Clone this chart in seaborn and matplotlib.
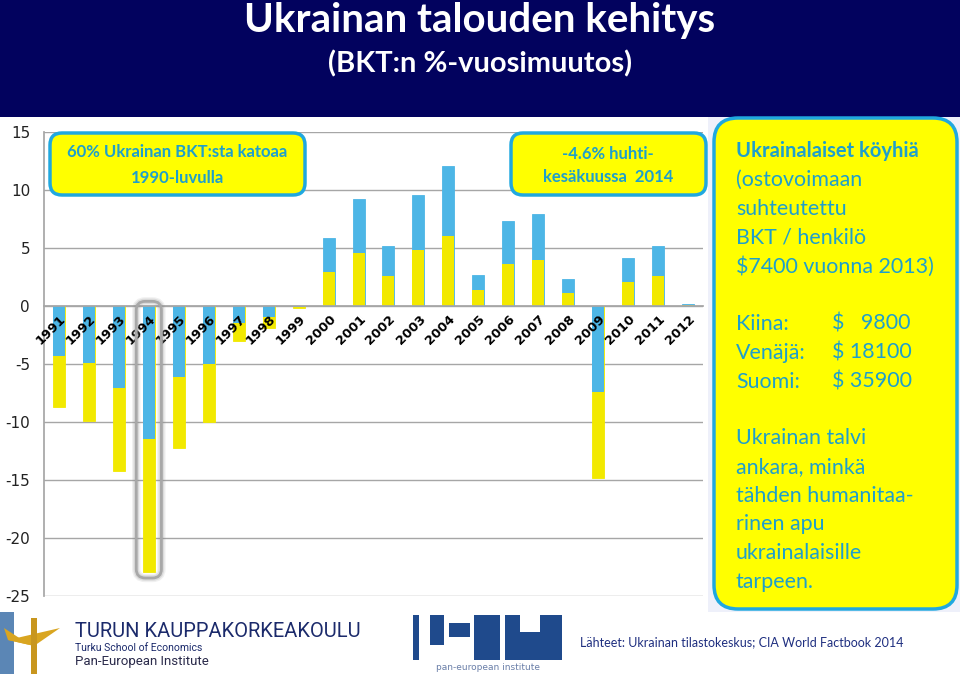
import matplotlib
matplotlib.use("Agg")
import matplotlib.pyplot as plt
import matplotlib.transforms as mtrans
import seaborn as sns
import pandas as pd
import numpy as np
from matplotlib.patches import FancyBboxPatch, Rectangle, Polygon
from matplotlib.transforms import IdentityTransform

# ---------------- data ----------------
years = ["1991", "1992", "1993", "1994", "1995", "1996", "1997", "1998", "1999", "2000", "2001",
         "2002", "2003", "2004", "2005", "2006", "2007", "2008", "2009", "2010", "2011", "2012"]
growth = [-8.7, -9.9, -14.2, -22.9, -12.2, -10.0, -3.0, -1.9, -0.2, 5.9, 9.2,
          5.2, 9.6, 12.1, 2.7, 7.3, 7.9, 2.3, -14.8, 4.1, 5.2, 0.2]
yticks = [-25, -20, -15, -10, -5, 0, 5, 10, 15]

title = "Ukrainan talouden kehitys"
subtitle = "(BKT:n %-vuosimuutos)"
box1_lines = ["60% Ukrainan BKT:sta katoaa", "1990-luvulla"]
box2_lines = ["-4.6% huhti-", "kesäkuussa  2014"]
side_head = "Ukrainalaiset köyhiä"
side_lines = ["(ostovoimaan", "suhteutettu", "BKT / henkilö", "$7400 vuonna 2013)"]
countries = ["Kiina:", "Venäjä:", "Suomi:"]
country_gdp = ["$   9800", "$ 18100", "$ 35900"]
side_tail = ["Ukrainan talvi", "ankara, minkä", "tähden humanitaa-", "rinen apu",
             "ukrainalaisille", "tarpeen."]
source = "Lähteet: Ukrainan tilastokeskus; CIA World Factbook 2014"

# ---------------- style ----------------
BLUE = "#4DB6E6"
YELLOW = "#F2E900"
NAVY = "#02025E"
TEAL = "#1E9FCC"
BORDER = "#20A8DF"
GRID = "#A6A6A6"
CAL = ["Lato", "DejaVu Sans"]

sns.set_theme(style="white")
plt.rcParams["font.family"] = ["DejaVu Sans"]
plt.rcParams["axes.axisbelow"] = False

W, H = 960, 674
fig = plt.figure(figsize=(W / 100, H / 100), dpi=100)
fig.patch.set_facecolor("white")

def fx(x):
    return x / W

def fy(y):
    return 1 - y / H

def px_box(x0, y0, x1, y1, **kw):
    p = FancyBboxPatch((x0, H - y1), x1 - x0, y1 - y0, transform=IdentityTransform(), **kw)
    fig.add_artist(p)
    return p

def px_rect(x0, y0, x1, y1, **kw):
    p = Rectangle((x0, H - y1), x1 - x0, y1 - y0, transform=IdentityTransform(), **kw)
    fig.add_artist(p)
    return p

# ---------------- banner ----------------
px_rect(0, 0, W, 117, facecolor=NAVY, edgecolor="none", zorder=0.2)
fig.text(fx(480), fy(32), title, color="white", fontsize=29, fontweight="bold",
         family=CAL, ha="center", va="baseline")
fig.text(fx(480), fy(72), subtitle, color="white", fontsize=21, fontweight="bold",
         family=CAL, ha="center", va="baseline")

# ---------------- chart ----------------
ax = fig.add_axes([fx(44), fy(596), 659 / W, 464 / H])
df = pd.DataFrame({"year": years, "growth": growth})
df["half"] = df["growth"] / 2
outer_colors = [BLUE if g > 0 else YELLOW for g in growth]
inner_colors = [YELLOW if g > 0 else BLUE for g in growth]
sns.barplot(data=df, x="year", y="growth", hue="year", palette=outer_colors, legend=False,
            width=0.4, saturation=1, linewidth=0.6, ax=ax)
n_outer = len(ax.patches)
for p in ax.patches:
    p.set_edgecolor(p.get_facecolor())
sns.barplot(data=df, x="year", y="half", hue="year", palette=inner_colors, legend=False,
            width=0.4, saturation=1, linewidth=0, ax=ax)
for p in ax.patches:
    p.set_zorder(1)

ax.set_ylim(yticks[0], yticks[-1])
ax.set_xlim(-0.5, len(years) - 0.5)
ax.set_yticks(yticks)
ax.set_yticklabels([str(v) for v in yticks])
ax.grid(False)
ax.set_axisbelow(False)
for v in yticks:
    ax.axhline(v, color=GRID, linewidth=1, zorder=0.5)
for s in ["top", "right"]:
    ax.spines[s].set_visible(False)
ax.spines["left"].set_color(GRID)
ax.spines["bottom"].set_color(GRID)
ax.spines["bottom"].set_position(("data", 0))
ax.set_xlabel("")
ax.set_ylabel("")
ax.set_xticks(np.arange(-0.5, len(years), 1), minor=True)
ax.tick_params(axis="x", which="major", length=0, pad=3, labelsize=9.3, labelcolor="black")
ax.tick_params(axis="x", which="minor", length=4, color=GRID, direction="out", width=1)
ax.tick_params(axis="y", length=4, color=GRID, width=1, labelsize=11, pad=6, labelcolor="#222222")
offset = mtrans.ScaledTranslation(5 / 100, -7 / 100, fig.dpi_scale_trans)
for lab in ax.get_xticklabels():
    lab.set_rotation(45)
    lab.set_ha("right")
    lab.set_va("center")
    lab.set_rotation_mode("anchor")
    lab.set_fontweight("bold")
    lab.set_transform(lab.get_transform() + offset)

# highlight around 1994
i94 = years.index("1994")
(x0, y0) = ax.transData.transform((i94 - 0.42, growth[i94] - 0.55))
(x1, y1) = ax.transData.transform((i94 + 0.42, 0.4))
for lw, a in [(6, 0.12), (4, 0.2)]:
    fig.add_artist(FancyBboxPatch((x0, y0), x1 - x0, y1 - y0, transform=IdentityTransform(),
                                  boxstyle="round,pad=0,rounding_size=9", facecolor="none",
                                  edgecolor="#888888", linewidth=lw, alpha=a, zorder=3))
fig.add_artist(FancyBboxPatch((x0, y0), x1 - x0, y1 - y0, transform=IdentityTransform(),
                              boxstyle="round,pad=0,rounding_size=9", facecolor="none",
                              edgecolor="#A8A8A8", linewidth=2, zorder=3))

# ---------------- annotation boxes ----------------
px_box(50, 133, 305, 195, boxstyle="round,pad=0,rounding_size=12", facecolor="#FFFF00",
       edgecolor=BORDER, linewidth=2.5, zorder=4)
fig.text(fx(177), fy(157), box1_lines[0], color=TEAL, fontsize=12, fontweight="bold",
         family=CAL, ha="center", va="baseline", zorder=5)
fig.text(fx(177), fy(183), box1_lines[1], color=TEAL, fontsize=12, fontweight="bold",
         family=CAL, ha="center", va="baseline", zorder=5)

px_box(511, 133, 706, 195, boxstyle="round,pad=0,rounding_size=12", facecolor="#FFFF00",
       edgecolor=BORDER, linewidth=2.5, zorder=4)
fig.text(fx(608), fy(159), box2_lines[0], color=TEAL, fontsize=12, fontweight="bold",
         family=CAL, ha="center", va="baseline", zorder=5)
fig.text(fx(608), fy(182), box2_lines[1], color=TEAL, fontsize=12, fontweight="bold",
         family=CAL, ha="center", va="baseline", zorder=5)

# right side panel
px_rect(708, 117, W, 612, facecolor="#EEF0FA", edgecolor="none", zorder=0.3)
px_box(714, 118, 957, 609, boxstyle="round,pad=0,rounding_size=24", facecolor="#FFFF00",
       edgecolor=BORDER, linewidth=2.5, zorder=4)
XL = 736
step = 28.8
fig.text(fx(XL), fy(157), side_head, color=TEAL, fontsize=14.5, fontweight="bold",
         family=CAL, ha="left", va="baseline", zorder=5)
for k, s in enumerate(side_lines):
    fig.text(fx(XL), fy(186 + k * step), s, color=TEAL, fontsize=15.4, family=CAL,
             ha="left", va="baseline", zorder=5)
for k, (c, g) in enumerate(zip(countries, country_gdp)):
    fig.text(fx(XL), fy(330 + k * step), c, color=TEAL, fontsize=15.4, family=CAL,
             ha="left", va="baseline", zorder=5)
    fig.text(fx(832), fy(330 + k * step), g, color=TEAL, fontsize=15.4, family=CAL,
             ha="left", va="baseline", zorder=5)
for k, s in enumerate(side_tail):
    fig.text(fx(XL), fy(444 + k * step), s, color=TEAL, fontsize=15.4, family=CAL,
             ha="left", va="baseline", zorder=5)

# ---------------- footer (logos approximated) ----------------
px_rect(0, 612, 14, 674, facecolor="#5B86B5", edgecolor="none", zorder=2)
fig.add_artist(Polygon([(8, H - 640), (60, H - 628), (34, H - 646)], closed=True,
                       transform=IdentityTransform(), facecolor="#D9A520", edgecolor="none", zorder=3))
fig.add_artist(Polygon([(8, H - 640), (4, H - 628), (30, H - 645)], closed=True,
                       transform=IdentityTransform(), facecolor="#D9A520", edgecolor="none", zorder=3))
px_rect(31, 618, 37, 674, facecolor="#C8961E", edgecolor="none", zorder=3)
fig.text(fx(75), fy(637), "TURUN KAUPPAKORKEAKOULU", color="#1B2A6B", fontsize=14.5,
         family=["Roboto", "DejaVu Sans"], ha="left", va="baseline")
fig.text(fx(75), fy(651), "Turku School of Economics", color="#1B2A6B", fontsize=7.5,
         family=["Roboto", "DejaVu Sans"], ha="left", va="baseline")
fig.text(fx(75), fy(665), "Pan-European Institute", color="#2B2B4B", fontsize=9.5,
         family=["Roboto", "DejaVu Sans"], ha="left", va="baseline")

PEI = "#1F4A8C"
px_rect(413, 615, 419, 660, facecolor=PEI, edgecolor="none")
px_rect(430, 615, 444, 645, facecolor=PEI, edgecolor="none")
px_rect(449, 623, 470, 637, facecolor=PEI, edgecolor="none")
px_rect(474, 615, 500, 660, facecolor=PEI, edgecolor="none")
px_rect(505, 615, 562, 660, facecolor=PEI, edgecolor="none")
px_rect(520, 615, 540, 632, facecolor="white", edgecolor="none")
fig.text(fx(488), fy(670), "pan-european institute", color="#6A7FA8", fontsize=6.5,
         family=["DejaVu Sans"], ha="center", va="baseline")

fig.text(fx(580), fy(646), source, color="#1F2F80", fontsize=9, family=CAL,
         ha="left", va="baseline")

fig.savefig("out.png", dpi=100)
